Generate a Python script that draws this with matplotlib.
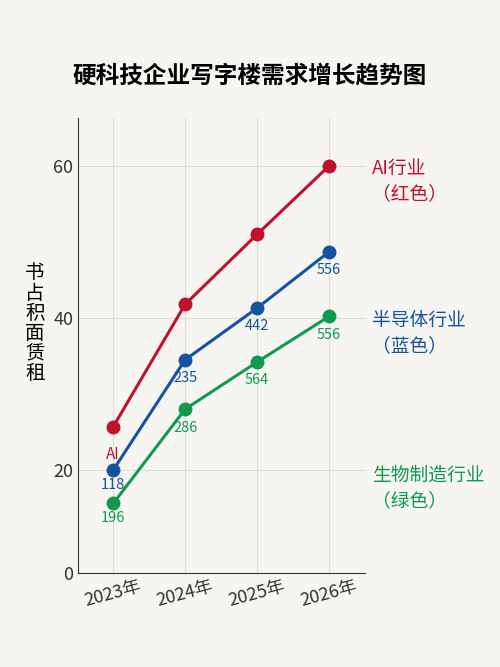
import matplotlib.pyplot as plt
import numpy as np

plt.rcParams['font.family'] = ['Noto Sans CJK SC', 'DejaVu Sans']

years = ['2023年', '2024年', '2025年', '2026年']
ai_vals = [25.7, 41.8, 51.0, 60.0]
semi_vals = [20.0, 34.5, 41.3, 48.7]
bio_vals = [13.5, 28.0, 34.2, 40.2]
semi_labels = ['118', '235', '442', '556']
bio_labels = ['196', '286', '564', '556']

red, blue, green = '#c0102e', '#1552a0', '#119a4f'
bg = '#f6f5f1'

# the reference axis squeezes the 0-20 band
k = 103 / 152


def fwd(y):
    y = np.asarray(y, dtype=float)
    return np.where(y < 20, y * k, y - 20 + 20 * k)


def inv(t):
    t = np.asarray(t, dtype=float)
    return np.where(t < 20 * k, t / k, t + 20 - 20 * k)


fig = plt.figure(figsize=(5, 6.67), dpi=100, facecolor=bg)
ax = fig.add_axes([0.156, 0.141, 0.574, 0.682], facecolor=bg)
ax.set_yscale('function', functions=(fwd, inv))
x = range(len(years))

for vals, c in [(ai_vals, red), (semi_vals, blue), (bio_vals, green)]:
    ax.plot(x, vals, color=c, lw=2.2, marker='o', ms=9, zorder=3)

ax.text(0, ai_vals[0] - 2.5, 'AI', color=red, ha='center', va='top', fontsize=11)
for i, (v, t) in enumerate(zip(semi_vals, semi_labels)):
    ax.text(i, v - 1.5, t, color=blue, ha='center', va='top', fontsize=10.5)
for i, (v, t) in enumerate(zip(bio_vals, bio_labels)):
    ax.text(i, v - 1.5, t, color=green, ha='center', va='top', fontsize=10.5)

ax.text(3.6, 58, 'AI行业\n（红色）', color=red, fontsize=13.5, va='center', linespacing=1.3)
ax.text(3.6, 38, '半导体行业\n（蓝色）', color=blue, fontsize=13.5, va='center', linespacing=1.3)
ax.text(3.6, 16.5, '生物制造行业\n（绿色）', color=green, fontsize=13.5, va='center', linespacing=1.3)

ax.set_xlim(-0.49, 3.5)
ax.set_ylim(0, 66.3)
ax.set_yticks([0, 20, 40, 60])
ax.set_yticklabels(['0', '20', '40', '60'])
ax.minorticks_off()
ax.set_xticks(list(x))
ax.set_xticklabels(years, rotation=15, fontsize=13, color='#333333')
ax.tick_params(axis='y', labelsize=13, labelcolor='#333333', length=0)
ax.tick_params(axis='x', length=0)
ax.grid(True, color='#dcdcdc', lw=0.8)
for s in ['top', 'right']:
    ax.spines[s].set_visible(False)
for s in ['left', 'bottom']:
    ax.spines[s].set_color('#333333')

fig.text(0.07, 0.515, '\n'.join('书占积面赁租'), fontsize=14, ha='center', va='center', linespacing=0.95)
fig.suptitle('硬科技企业写字楼需求增长趋势图', y=0.905, fontsize=17, fontweight='bold')

fig.savefig('out.png', dpi=100, facecolor=bg)
